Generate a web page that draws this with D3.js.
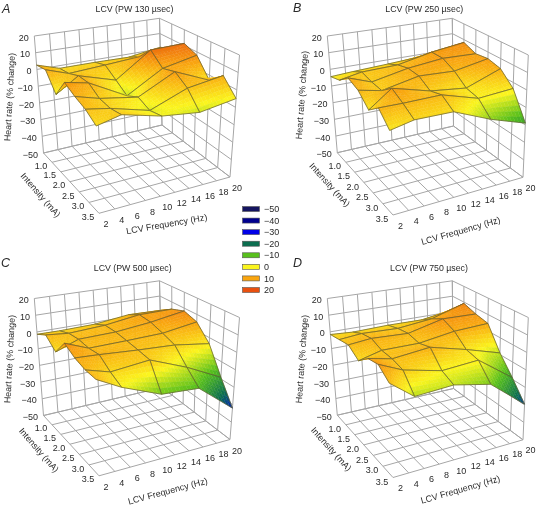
<!DOCTYPE html>
<html><head><meta charset="utf-8">
<style>html,body{margin:0;padding:0;background:#fff}svg{display:block;filter:blur(0.35px)}text{font-family:"Liberation Sans",Arial,sans-serif;fill:#2a2a2a}</style>
<script src="https://cdn.jsdelivr.net/npm/d3@7"></script></head><body>
<script>
const frequencyTicks=[2,4,6,8,10,12,14,16,18,20];
const dataFrequencies=[2,5,10,15,20];
const intensityRows=[0.5,1.0,1.5,2.0,2.5,3.0,3.5];
const intensityLabels=[1.0,1.5,2.0,2.5,3.0,3.5];
const zTicks=[20,10,0,-10,-20,-30,-40,-50];
const legendValues=[-50,-40,-30,-20,-10,0,10,20];
const legendColors=["#15155f","#00008f","#0000e8","#0b6e4f","#58c01c","#fbf51e","#f9a50f","#e9500f"];
const panelTitles=["LCV (PW 130 \u00b5sec)","LCV (PW 250 \u00b5sec)","LCV (PW 500 \u00b5sec)","LCV (PW 750 \u00b5sec)"];
const panelLetters=["A","B","C","D"];
const surfaceA=[
[2.6,-1.6,-1.6,-2,1],
[4.6,0,1.2,2.6,4],
[-5,3.4,-3.4,11,11.4],
[7,4,-8,4,8],
[4,0,-4,6.4,-3],
[2,-0.6,-6.8,1.2,4],
[-2,1,-5,-8,-5]];
const surfaceB=[
[-4.4,-3.6,-2.6,-1.4,1.5],
[-1.4,1,1.4,5.6,8.2],
[5,0,4,6,5],
[3,0,4,2.6,6],
[-3,6.4,0,-3,4],
[3.6,3,2.6,-4.4,-3.5],
[-3.4,-1,-2,-11.6,-19]];
const surfaceC=[
[-1.4,-1.6,-1.2,1.2,0.6],
[3,1.6,2.6,5.4,5.4],
[-2,2.8,3,5,8.2],
[8,2.4,2.4,2.6,5.4],
[4.6,3.6,1.6,0,-3.6],
[3,-1.2,0.6,-8.4,-19],
[3,-4.6,-13.8,-15.6,-32]];
const surfaceD=[
[-1.6,-2.4,-1.8,-2,1],
[0.4,1.6,0.8,3,9.2],
[2.4,3.6,2.4,7.2,6.4],
[-1.6,1.6,1.2,4,4.6],
[5,1.8,3.6,-2.4,-9],
[7,0.6,-5,-4,-19],
[2,-8.8,-8,-13,-29.6]];
const surfaces=[surfaceA,surfaceB,surfaceC,surfaceD];

const boxAC={Lb:[43.5,153],Lt:[34.3,36],Fb:[99,213.3],Ft:[95,86],Bb:[162,125],Bt:[159.5,18.3],Rb:[230,177],Rt:[239.5,55]};
const boxBD={Lb:[337.3,152.7],Lt:[327.3,36],Fb:[393,215],Ft:[388,88],Bb:[453.5,126],Bt:[452.3,18.3],Rb:[523,177.3],Rt:[528.3,55]};
const rowShift=262.5;
const colorShift=5;
const layouts=[
 {box:boxAC,dy:0,title:[134.5,9],letter:[2,13],heart:[9.5,97,-87],inten:[40.7,195,49],freq:[166.7,224,-10],fo:[7,11],io:[-11,3.5]},
 {box:boxBD,dy:0,title:[424.3,9],letter:[293,12],heart:[301.7,95,-86],inten:[329.7,184.7,48],freq:[460.7,230.7,-16],fo:[7.5,10.5],io:[-11,4]},
 {box:boxAC,dy:rowShift,title:[132.7,268],letter:[1,267],heart:[9.5,359,-87],inten:[39,450,49],freq:[167.7,491,-15],fo:[7,11],io:[-11,3.5]},
 {box:boxBD,dy:rowShift,title:[429,268],letter:[293,267],heart:[301.7,359,-86],inten:[331.3,449,48],freq:[460.3,489.5,-16],fo:[7.5,10.5],io:[-11,4]}];
const depth={L:1.1,F:1.0,B:1.22,R:1.1};

const svg=d3.select("body").append("svg").attr("width",538).attr("height",506);
const uScale=d3.scaleLinear().domain([2,20]).range([0,1]);
const vScale=d3.scaleLinear().domain([0.5,3.5]).range([0,1]);
const wScale=d3.scaleLinear().domain([-50,20]).range([0,1]);
const colorScale=d3.scaleLinear().domain(legendValues).range(legendColors).clamp(true);
const gridCol="#a6a6a6";

function projector(box,dy){
 const names=[["L","F"],["B","R"]];
 return (f,i,z)=>{
  const u=uScale(f),v=vScale(i),w=wScale(z);
  let X=0,Y=0,W=0;
  [[0,0],[0,1],[1,0],[1,1]].forEach(([a,b])=>{
    const n=names[a][b],d=depth[n];
    const wt=(a?u:1-u)*(b?v:1-v)*d;
    const pb=box[n+"b"],pt=box[n+"t"];
    X+=wt*(pb[0]*(1-w)+pt[0]*w);Y+=wt*(pb[1]*(1-w)+pt[1]*w);W+=wt;
  });
  return [X/W,Y/W+dy];
 };
}
const line=d3.line();

surfaces.forEach((data,p)=>{
 const lay=layouts[p],P=projector(lay.box,lay.dy),g=svg.append("g");
 const fMin=2,fMax=20,iMin=0.5,iMax=3.5,zMin=-50,zMax=20;
 const gl=(pts,w)=>g.append("path").attr("d",line(pts)).attr("fill","none").attr("stroke",gridCol).attr("stroke-width",w||1);
 frequencyTicks.forEach(f=>{gl([P(f,iMin,zMin),P(f,iMin,zMax)]);gl([P(f,iMin,zMin),P(f,iMax,zMin)]);});
 intensityRows.forEach(i=>{gl([P(fMax,i,zMin),P(fMax,i,zMax)]);gl([P(fMin,i,zMin),P(fMax,i,zMin)]);});
 zTicks.forEach(z=>{gl([P(fMin,iMin,z),P(fMax,iMin,z),P(fMax,iMax,z)]);});
 const nS=10,nT=6;
 for(let r=0;r<intensityRows.length-1;r++){
  for(let c=dataFrequencies.length-2;c>=0;c--){
   const f0=dataFrequencies[c],f1=dataFrequencies[c+1],i0=intensityRows[r],i1=intensityRows[r+1];
   const z00=data[r][c],z01=data[r][c+1],z10=data[r+1][c],z11=data[r+1][c+1];
   const zAt=(s,t)=>z00*(1-s)*(1-t)+z01*s*(1-t)+z10*(1-s)*t+z11*s*t;
   const pt=(s,t)=>P(f0+(f1-f0)*s,i0+(i1-i0)*t,zAt(s,t));
   for(let a=nS-1;a>=0;a--)for(let b=0;b<nT;b++){
     const s0=a/nS,s1=(a+1)/nS,t0=b/nT,t1=(b+1)/nT,col=colorScale(zAt((s0+s1)/2,(t0+t1)/2)+colorShift);
     g.append("path").attr("d",line([pt(s0,t0),pt(s1,t0),pt(s1,t1),pt(s0,t1)])+"Z").attr("fill",col).attr("stroke",col).attr("stroke-width",0.4);
   }
   const edge=[[0,0],[1,0],[1,1],[0,1],[0,0]].map(([s,t])=>pt(s,t));
   g.append("path").attr("d",line(edge)).attr("fill","none").attr("stroke","#5f5a32").attr("stroke-width",0.7);
  }
 }
 const tx=(x,y,t,anchor,size)=>g.append("text").attr("x",x).attr("y",y).attr("text-anchor",anchor).attr("dy","0.35em").attr("font-size",size||9).text(t);
 zTicks.forEach(z=>{const q=P(fMin,iMin,z);tx(q[0]-5.5,q[1]+1.5,String(z).replace("-","\u2212"),"end");});
 frequencyTicks.forEach(f=>{const q=P(f,iMax,zMin);tx(q[0]+lay.fo[0],q[1]+lay.fo[1],f,"middle");});
 intensityLabels.forEach(i=>{const q=P(fMin,i,zMin);tx(q[0]+lay.io[0],q[1]+lay.io[1],d3.format(".1f")(i),"middle");});
 g.append("text").attr("x",lay.title[0]).attr("y",lay.title[1]).attr("text-anchor","middle").attr("dy","0.35em").attr("font-size",8.8).text(panelTitles[p]);
 g.append("text").attr("x",lay.letter[0]).attr("y",lay.letter[1]).attr("font-size",12.5).attr("font-style","italic").text(panelLetters[p]);
 [[lay.heart,"Heart rate (% change)"],[lay.inten,"Intensity (mA)"],[lay.freq,"LCV Frequency (Hz)"]].forEach(([o,t])=>{
  g.append("text").attr("transform",`translate(${o[0]},${o[1]}) rotate(${o[2]})`).attr("text-anchor","middle").attr("dy","0.35em").attr("font-size",9).text(t);
 });
});

const legY=d3.scalePoint().domain(legendValues).range([209,290]);
const leg=svg.append("g");
legendValues.forEach((v,k)=>{
 leg.append("rect").attr("x",242.5).attr("y",legY(v)-2.5).attr("width",17).attr("height",5).attr("fill",legendColors[k]).attr("stroke","#555").attr("stroke-width",0.6);
 leg.append("text").attr("x",264).attr("y",legY(v)).attr("dy","0.35em").attr("font-size",9).text(String(v).replace("-","\u2212"));
});
</script></body></html>
